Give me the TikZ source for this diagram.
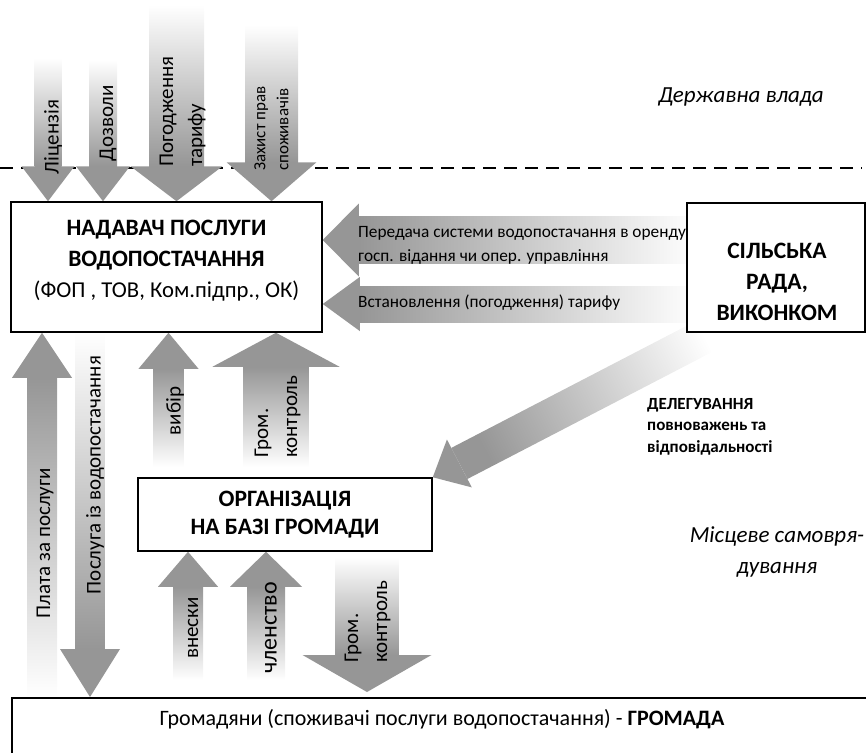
\documentclass[tikz,border=0pt]{standalone}
\usepackage{fontspec}
\setmainfont{Carlito}
\usetikzlibrary{calc}

\definecolor{arrowgray}{RGB}{150,150,150}

\pgfdeclarelayer{background}
\pgfsetlayers{background,main}

\tikzset{
  box/.style={draw, line width=1.5pt, fill=white, inner sep=0pt},
  title/.style={font=\fontsize{23.5}{31}\selectfont\bfseries, align=center},
  arrowtext/.style={font=\fontsize{21}{29}\selectfont, rotate=90, inner sep=0pt},
  smalltext/.style={font=\fontsize{17.3}{24}\selectfont, align=left, inner sep=0pt},
  area/.style={font=\fontsize{23}{31}\selectfont\itshape, align=center},
  shade down/.style={top color=white, bottom color=arrowgray},
  shade up/.style={top color=arrowgray, bottom color=white},
  shade left/.style={left color=arrowgray, right color=white},
  divider/.style={line width=1.5pt, dash pattern=on 13pt off 8pt},
}

% #1 shading, #2 tail, #3 tip, #4 half shaft, #5 half head, #6 head length
\newcommand{\bigarrow}[6]{%
  \path[#1] let \p1=($(#2)-(#3)$), \n1={atan2(\y1,\x1)}, \n2={veclen(\x1,\y1)} in
    ($(#3)+(\n1:#6)+({\n1+90}:#4)$) -- ($(#3)+(\n1:\n2)+({\n1+90}:#4)$)
    -- ($(#3)+(\n1:\n2)+({\n1-90}:#4)$) -- ($(#3)+(\n1:#6)+({\n1-90}:#4)$) -- cycle;
  \fill[arrowgray] let \p1=($(#2)-(#3)$), \n1={atan2(\y1,\x1)} in
    (#3) -- ($(#3)+(\n1:#6)+({\n1+90}:#5)$) -- ($(#3)+(\n1:#6)+({\n1-90}:#5)$) -- cycle;
}

\begin{document}
\begin{tikzpicture}[x=1pt, y=1pt]
\useasboundingbox (0,0) rectangle (866,-752);
\clip (0,0) rectangle (866,-752);

% boxes
\node[box, minimum width=311pt, minimum height=130pt] (prov) at (166.5,-267) {};
\node[title] (provtext) at (166.5,-261) {НАДАВАЧ ПОСЛУГИ\\ВОДОПОСТАЧАННЯ\\{\mdseries\fontsize{22.7}{31}\selectfont (ФОП , ТОВ, Ком.підпр., ОК)}};
\node[box, minimum width=178pt, minimum height=129pt] (rada) at (776,-267.5) {};
\node[title] (radatext) at (777,-282) {СІЛЬСЬКА\\РАДА,\\ВИКОНКОМ};
\node[box, title, font=\fontsize{23.5}{28}\selectfont\bfseries, minimum width=294pt, minimum height=73pt] (org) at (285,-514.5) {ОРГАНІЗАЦІЯ\\НА БАЗІ ГРОМАДИ};
\node[box, anchor=north west, minimum width=880pt, minimum height=80pt] (grom) at (11,-697) {};
\node[font=\fontsize{22}{26}\selectfont] (gromtext) at (442,-719) {Громадяни (споживачі послуги водопостачання) - \textbf{ГРОМАДА}};

% free ends
\coordinate (lic) at (48,-58);
\coordinate (doz) at (103,-60);
\coordinate (pog) at (176.5,-5);
\coordinate (zah) at (271.5,-25);
\coordinate (per) at (697,-240);
\coordinate (vst) at (697,-304);
\coordinate (del) at (730,-323);
\coordinate (pla) at (42,-697);
\coordinate (pos) at (90,-332);
\coordinate (vyb) at (168.5,-467);
\coordinate (kon) at (276,-467);
\coordinate (vne) at (188,-680);
\coordinate (chl) at (266,-680);
\coordinate (kon2) at (367,-557);
\coordinate (kon2tip) at ($(kon2 |- grom.north)+(0,5)$);

\begin{pgfonlayer}{background}
\draw[divider] (0,-168) -- (862,-168);
\bigarrow{shade down}{lic}{lic |- prov.north}{13.5}{26.5}{35}
\bigarrow{shade down}{doz}{doz |- prov.north}{14}{27}{35}
\bigarrow{shade down}{pog}{pog |- prov.north}{27.5}{46}{35}
\bigarrow{shade down}{zah}{zah |- prov.north}{26.5}{45}{39}
\bigarrow{shade left}{per}{per -| prov.east}{23.5}{36.5}{36}
\bigarrow{shade left}{vst}{vst -| prov.east}{18}{27}{37}
\bigarrow{shade down, shading angle=-63}{del}{org.north east}{17.5}{27}{30}
\bigarrow{shade up}{pla}{pla |- prov.south}{15}{30}{45}
\bigarrow{shade down}{pos}{pos |- grom.north}{14.5}{30}{48}
\bigarrow{shade up}{vyb}{vyb |- prov.south}{15}{30}{36}
\bigarrow{shade up}{kon}{kon |- prov.south}{32.5}{63.5}{34}
\bigarrow{shade up}{vne}{vne |- org.south}{15}{30}{35}
\bigarrow{shade up}{chl}{chl |- org.south}{19}{36}{35}
\bigarrow{shade down}{kon2}{kon2tip}{31.5}{64.5}{37}
\end{pgfonlayer}

% arrow labels
\node[arrowtext] (t lic) at (53,-137) {Ліцензія};
\node[arrowtext] (t doz) at (108,-123) {Дозволи};
\node[arrowtext, anchor=west, align=left] (t pog) at (182.5,-167) {Погодження\\тарифу};
\node[arrowtext, anchor=west, align=left, font=\fontsize{17}{23}\selectfont] (t zah) at (271.5,-171) {Захист прав\\споживачів};
\node[smalltext, anchor=west] (t per) at (358,-245) {Передача системи водопостачання в оренду\\госп. відання чи опер. управління};
\node[smalltext, anchor=west] (t vst) at (358,-303) {Встановлення (погодження) тарифу};
\node[smalltext, font=\fontsize{17}{21.5}\selectfont\bfseries, anchor=west] (t del) at (647,-426.5) {ДЕЛЕГУВАННЯ\\повноважень та\\відповідальності};
\node[arrowtext] (t pla) at (45,-543) {Плата за послуги};
\node[arrowtext] (t pos) at (95,-475) {Послуга із водопостачання};
\node[arrowtext] (t vyb) at (175,-411) {вибір};
\node[arrowtext, anchor=west, align=left] (t kon) at (277.5,-458) {Гром.\\контроль};
\node[arrowtext] (t vne) at (193,-628) {внески};
\node[arrowtext, font=\fontsize{24}{29}\selectfont] (t chl) at (271,-628) {членство};
\node[arrowtext, anchor=west, align=left] (t kon2) at (367.5,-663) {Гром.\\контроль};

% areas
\node[area] (state) at (741,-97) {Державна влада};
\node[area] (local) at (777,-552) {Місцеве самовря-\\дування};
\end{tikzpicture}
\end{document}
